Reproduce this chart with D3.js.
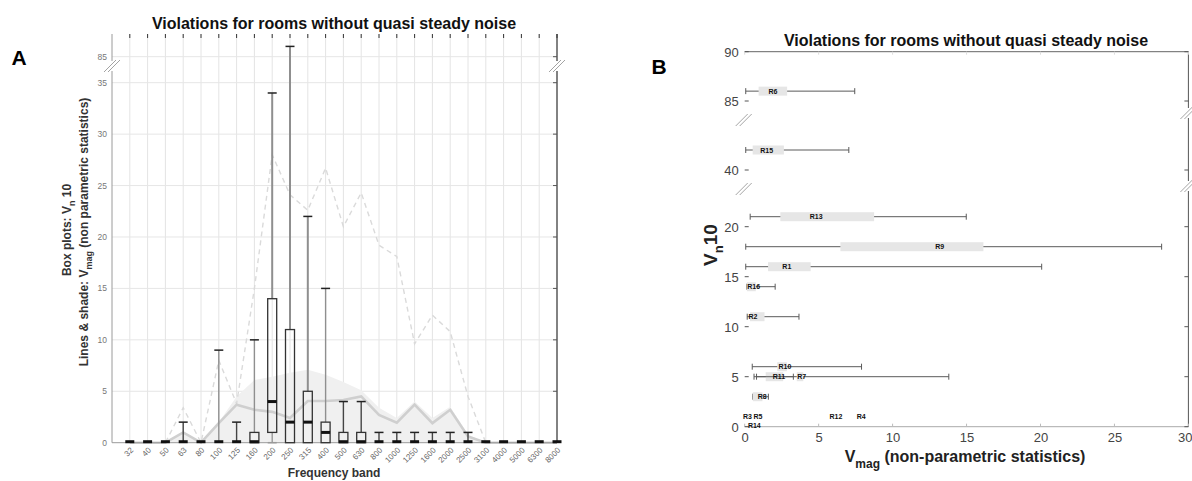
<!DOCTYPE html>
<html>
<head>
<meta charset="utf-8">
<script src="https://cdn.jsdelivr.net/npm/d3@7"></script>
<style>
  body { margin: 0; background: #fff; }
  svg { font-family: "Liberation Sans", Arial, sans-serif; }
</style>
</head>
<body>
<svg id="chart" width="1192" height="481"></svg>
<script>
// ---- panel A data (box plots per frequency band + summary lines) ----
const bands = ["32","40","50","63","80","100","125","160","200","250","315","400","500",
               "630","800","1000","1250","1600","2000","2500","3100","4000","5000","6300","8000"];
const boxLo  = [0,0,0,0,0,0,0,0,0,0,0,0,0,0,0,0,0,0,0,0,0,0,0,0,0];
const boxQ1  = [0,0,0,0,0,0,0,0,1,0,0,0,0,0,0,0,0,0,0,0,0,0,0,0,0];
const boxMed = [0,0,0,0,0,0,0,0,4,2,2,1,0,0,0,0,0,0,0,0,0,0,0,0,0];
const boxQ3  = [0,0,0,0,0,0,0,1,14,11,5,2,1,1,0,0,0,0,0,0,0,0,0,0,0];
const boxHi  = [0,0,0,2,0,9,2,10,34,86,22,15,4,4,1,1,1,1,1,1,0,0,0,0,0];
const maxLine  = [0,0,0,3.4,0,8,3.8,15,28,24.1,22.6,26.7,21,24.3,19.2,18.1,9.6,12.4,10.8,4.5,0,0,0,0,0];
const midLine  = [0,0,0,1,0,1.9,3.7,3.2,3,2.4,4.05,4.05,4.15,4.5,2.7,1.95,3.7,1.9,3.2,0.6,0,0,0,0,0];
const shadeTop = [0,0,0,1,0,2,4.5,6.1,6.4,6.8,7.1,6.6,5.9,5.1,3.4,2.4,4,2.4,3.5,0.8,0,0,0,0,0];
const yTicksA = [0,5,10,15,20,25,30,35,85];

// ---- panel B data (one box per room) ----
const rooms   = ["R6","R15","R13","R9","R1","R16","R2","R10","R11","R7","R8","R3","R5","R14","R12","R4"];
const roomVn  = [86,42,21,18,16,14,11,6,5,5,3,1,1,0.1,1,1];
const roomLo  = [0.07,0.07,0.37,0.07,0.07,0.15,0.17,0.51,0.63,0.8,0.55,0.18,0.9,0.65,6.17,7.88];
const roomQ1  = [0.94,0.54,2.41,6.47,1.58,0.15,0.36,2.2,1.42,3.52,0.55,0.18,0.9,0.65,6.17,7.88];
const roomMed = [1.91,1.49,4.83,13.19,2.85,0.61,0.56,2.72,2.32,3.85,1.19,0.18,0.9,0.65,6.17,7.88];
const roomQ3  = [2.87,2.65,8.75,16.14,4.46,0.75,1.34,2.85,2.6,3.96,1.2,0.18,0.9,0.65,6.17,7.88];
const roomHi  = [7.44,7.04,14.98,28.19,20.08,2.06,3.67,7.9,3.29,13.8,1.6,0.18,0.9,0.65,6.17,7.88];
const xTicksB = [0,5,10,15,20,25,30];
const yTicksB = [0,5,10,15,20,40,85,90];

const title = "Violations for rooms without quasi steady noise";
const svg = d3.select("#chart");

// ================= panel A =================
const A = { left: 112, right: 557, top: 34, bottom: 442.7, brk: 66 };
const xA = d3.scalePoint().domain(bands).range([A.left + 17.8, A.right]);
const yLow = d3.scaleLinear().domain([0, 35]).range([A.bottom, 82.7]);
const yHigh = d3.scaleLinear().domain([85, 86]).range([56.7, 46.4]);
const yA = v => v > 60 ? yHigh(v) : yLow(v);

const gA = svg.append("g");

// grid
gA.selectAll(".vgrid").data(bands).enter().append("line")
  .attr("x1", d => xA(d)).attr("x2", d => xA(d))
  .attr("y1", A.top).attr("y2", A.bottom)
  .attr("stroke", "#e4e4e4").attr("stroke-width", 1);
gA.selectAll(".hgrid").data(yTicksA.filter(d => d > 0)).enter().append("line")
  .attr("x1", A.left).attr("x2", A.right)
  .attr("y1", d => yA(d)).attr("y2", d => yA(d))
  .attr("stroke", "#e6e6e6").attr("stroke-width", 1);

// shade + lines
const area = d3.area().x((d, i) => xA(bands[i])).y0(yA(0)).y1(d => yA(d));
gA.append("path").datum(shadeTop).attr("d", area).attr("fill", "#f0f0f0");
const line = d3.line().x((d, i) => xA(bands[i])).y(d => yA(d));
gA.append("path").datum(maxLine).attr("d", line)
  .attr("fill", "none").attr("stroke", "#dadada").attr("stroke-width", 1.4)
  .attr("stroke-dasharray", "5,4");
gA.append("path").datum(midLine).attr("d", line)
  .attr("fill", "none").attr("stroke", "#cfcfcf").attr("stroke-width", 2.6);

// axes lines
gA.append("line").attr("x1", A.left).attr("x2", A.left).attr("y1", A.top).attr("y2", A.bottom)
  .attr("stroke", "#9a9a9a");
gA.append("line").attr("x1", A.right).attr("x2", A.right).attr("y1", A.top).attr("y2", A.bottom)
  .attr("stroke", "#666").attr("stroke-width", 1.6);
gA.append("line").attr("x1", A.left).attr("x2", A.right).attr("y1", A.bottom).attr("y2", A.bottom)
  .attr("stroke", "#9a9a9a");

// ticks
gA.selectAll(".ttick").data(bands).enter().append("line")
  .attr("x1", d => xA(d)).attr("x2", d => xA(d))
  .attr("y1", A.top).attr("y2", A.top + 4)
  .attr("stroke", "#333");
gA.selectAll(".rtick").data(yTicksA).enter().append("line")
  .attr("x1", A.right - 4).attr("x2", A.right)
  .attr("y1", d => yA(d)).attr("y2", d => yA(d)).attr("stroke", "#555");
gA.selectAll(".ylab").data(yTicksA).enter().append("text")
  .attr("x", A.left - 5).attr("y", d => yA(d) + 3)
  .attr("text-anchor", "end").attr("font-size", 8.5).attr("fill", "#777")
  .text(d => d);
gA.selectAll(".xlab").data(bands).enter().append("text")
  .attr("transform", d => `translate(${xA(d) + 4},${A.bottom + 8}) rotate(-45)`)
  .attr("text-anchor", "end").attr("font-size", 8).attr("fill", "#666")
  .text(d => d);

// box plots
const bw = 9;
const boxes = gA.selectAll(".box").data(bands).enter().append("g");
boxes.each(function (b, i) {
  const g = d3.select(this), x = xA(b);
  if (boxHi[i] > boxQ3[i]) {
    g.append("line").attr("x1", x).attr("x2", x).attr("y1", yA(boxQ3[i])).attr("y2", yA(boxHi[i]))
      .attr("stroke", boxHi[i] > 8 ? "#8f8f8f" : "#444").attr("stroke-width", boxHi[i] > 20 ? 2 : 1.4);
    g.append("line").attr("x1", x - bw / 2).attr("x2", x + bw / 2)
      .attr("y1", yA(boxHi[i])).attr("y2", yA(boxHi[i]))
      .attr("stroke", "#222").attr("stroke-width", 1.5);
  }
  if (boxQ1[i] > boxLo[i]) {
    g.append("line").attr("x1", x).attr("x2", x).attr("y1", yA(boxLo[i])).attr("y2", yA(boxQ1[i]))
      .attr("stroke", "#999").attr("stroke-width", 1.4);
    g.append("line").attr("x1", x - bw / 2).attr("x2", x + bw / 2)
      .attr("y1", yA(boxLo[i])).attr("y2", yA(boxLo[i]))
      .attr("stroke", "#999").attr("stroke-width", 1.5);
  }
  if (boxQ3[i] > boxQ1[i]) {
    g.append("rect").attr("x", x - bw / 2).attr("width", bw)
      .attr("y", yA(boxQ3[i])).attr("height", yA(boxQ1[i]) - yA(boxQ3[i]))
      .attr("fill", "none").attr("stroke", "#333").attr("stroke-width", 1.3);
  }
  g.append("line").attr("x1", x - bw / 2).attr("x2", x + bw / 2)
    .attr("y1", yA(boxMed[i]) - (boxMed[i] === 0 ? 1 : 0)).attr("y2", yA(boxMed[i]) - (boxMed[i] === 0 ? 1 : 0))
    .attr("stroke", "#111").attr("stroke-width", 3);
});

// axis break marks
function breakMark(g, x, y) {
  g.append("rect").attr("x", x - 3).attr("y", y - 5).attr("width", 6).attr("height", 10).attr("fill", "#fff");
  [-2, 2].forEach(o => {
    g.append("line").attr("x1", x - 6 + o).attr("y1", y + 6).attr("x2", x + 6 + o).attr("y2", y - 6)
      .attr("stroke", "#999").attr("stroke-width", 0.9);
  });
}
breakMark(gA, A.left, A.brk);
breakMark(gA, A.right, A.brk);

// texts
gA.append("text").attr("x", 334).attr("y", 29).attr("text-anchor", "middle")
  .attr("font-size", 16).attr("font-weight", "bold").attr("fill", "#111").text(title);
gA.append("text").attr("x", 19).attr("y", 65).attr("text-anchor", "middle")
  .attr("font-size", 21).attr("font-weight", "bold").attr("fill", "#000").text("A");
gA.append("text").attr("x", 334).attr("y", 477).attr("text-anchor", "middle")
  .attr("font-size", 12).attr("font-weight", "bold").attr("fill", "#333").text("Frequency band");

const yl1 = gA.append("text").attr("transform", "translate(71,230) rotate(-90)")
  .attr("text-anchor", "middle").attr("font-size", 12).attr("font-weight", "bold").attr("fill", "#333");
yl1.append("tspan").text("Box plots: V");
yl1.append("tspan").attr("font-size", 9).attr("dy", 4).text("n");
yl1.append("tspan").attr("dy", -4).text(" 10");
const yl2 = gA.append("text").attr("transform", "translate(88,232) rotate(-90)")
  .attr("text-anchor", "middle").attr("font-size", 12).attr("font-weight", "bold").attr("fill", "#333");
yl2.append("tspan").text("Lines & shade: V");
yl2.append("tspan").attr("font-size", 9).attr("dy", 4).text("mag");
yl2.append("tspan").attr("dy", -4).text(" (non parametric statistics)");

// ================= panel B =================
const B = { left: 744.7, right: 1188.4, top: 51.7, bottom: 426.7 };
const xB = d3.scaleLinear().domain([0, 30]).range([B.left, B.right]);
const yB0 = d3.scaleLinear().domain([0, 20]).range([B.bottom, 226.7]);
const yB1 = d3.scaleLinear().domain([40, 45]).range([170, 120]);
const yB2 = d3.scaleLinear().domain([85, 90]).range([101, B.top]);
const yB = v => v < 30 ? yB0(v) : v < 60 ? yB1(v) : yB2(v);

const gB = svg.append("g");
gB.append("line").attr("x1", B.left).attr("x2", B.right).attr("y1", B.top).attr("y2", B.top)
  .attr("stroke", "#666");
gB.append("line").attr("x1", B.right).attr("x2", B.right).attr("y1", B.top).attr("y2", B.bottom)
  .attr("stroke", "#555");
gB.append("line").attr("x1", B.left).attr("x2", B.right).attr("y1", B.bottom).attr("y2", B.bottom)
  .attr("stroke", "#aaa");

gB.append("g").attr("transform", `translate(0,${B.bottom})`)
  .call(d3.axisBottom(xB).tickValues(xTicksB).tickSize(0).tickPadding(6))
  .call(g => g.select(".domain").remove())
  .call(g => g.selectAll("text").attr("font-size", 13).attr("fill", "#444")
    .attr("font-family", "Liberation Sans, Arial, sans-serif")
    .attr("text-anchor", d => d === 30 ? "end" : "middle")
    .attr("dx", d => d === 30 ? "3.5" : "0"));
gB.selectAll(".btick").data(xTicksB).enter().append("line")
  .attr("x1", d => xB(d)).attr("x2", d => xB(d)).attr("y1", B.bottom).attr("y2", B.bottom - 3)
  .attr("stroke", "#bbb");
gB.selectAll(".ttickB").data(xTicksB).enter().append("line")
  .attr("x1", d => xB(d)).attr("x2", d => xB(d)).attr("y1", B.top).attr("y2", B.top + 3)
  .attr("stroke", "#ddd");
gB.selectAll(".lt").data(yTicksB).enter().append("line")
  .attr("x1", B.left).attr("x2", B.left + 4).attr("y1", d => yB(d)).attr("y2", d => yB(d))
  .attr("stroke", "#555");
gB.selectAll(".rt").data(yTicksB).enter().append("line")
  .attr("x1", B.right - 4).attr("x2", B.right).attr("y1", d => yB(d)).attr("y2", d => yB(d))
  .attr("stroke", "#555");
gB.selectAll(".yl").data(yTicksB).enter().append("text")
  .attr("x", B.left - 6).attr("y", d => yB(d) + 5)
  .attr("text-anchor", "end").attr("font-size", 13).attr("fill", "#444").text(d => d);

breakMark(gB, B.left - 1, 120);
breakMark(gB, B.left - 1, 189);
breakMark(gB, B.right, 113);
breakMark(gB, B.right, 186);

// room boxes
const bh = 9;
rooms.forEach((r, i) => {
  const y = yB(roomVn[i]);
  if (roomHi[i] > roomLo[i]) {
    gB.append("line").attr("x1", xB(roomLo[i])).attr("x2", xB(roomHi[i])).attr("y1", y).attr("y2", y)
      .attr("stroke", "#5a5a5a").attr("stroke-width", 1);
    [roomLo[i], roomHi[i]].forEach(v => {
      gB.append("line").attr("x1", xB(v)).attr("x2", xB(v)).attr("y1", y - 3).attr("y2", y + 3)
        .attr("stroke", "#5a5a5a").attr("stroke-width", 1);
    });
  }
  if (roomQ3[i] > roomQ1[i]) {
    gB.append("rect").attr("x", xB(roomQ1[i])).attr("width", xB(roomQ3[i]) - xB(roomQ1[i]))
      .attr("y", y - bh / 2).attr("height", bh).attr("fill", "#e6e6e6");
  }
});
gB.selectAll(".rlab").data(rooms).enter().append("text")
  .attr("x", (d, i) => xB(roomMed[i])).attr("y", (d, i) => yB(roomVn[i]) + 2.5)
  .attr("text-anchor", "middle").attr("font-size", 7).attr("font-weight", "bold").attr("fill", "#111")
  .text(d => d);

// texts
gB.append("text").attr("x", 966).attr("y", 46).attr("text-anchor", "middle")
  .attr("font-size", 16).attr("font-weight", "bold").attr("fill", "#111").text(title);
gB.append("text").attr("x", 659).attr("y", 74).attr("text-anchor", "middle")
  .attr("font-size", 21).attr("font-weight", "bold").attr("fill", "#000").text("B");
const xlB = gB.append("text").attr("x", 965).attr("y", 462).attr("text-anchor", "middle")
  .attr("font-size", 16).attr("font-weight", "bold").attr("fill", "#222");
xlB.append("tspan").text("V");
xlB.append("tspan").attr("font-size", 12).attr("dy", 6).text("mag");
xlB.append("tspan").attr("dy", -6).text(" (non-parametric statistics)");
const ylB = gB.append("text").attr("transform", "translate(717,245) rotate(-90)")
  .attr("text-anchor", "middle").attr("font-size", 19).attr("font-weight", "bold").attr("fill", "#222");
ylB.append("tspan").text("V");
ylB.append("tspan").attr("font-size", 13).attr("dy", 6).text("n");
ylB.append("tspan").attr("dy", -6).text("10");
</script>
</body>
</html>
